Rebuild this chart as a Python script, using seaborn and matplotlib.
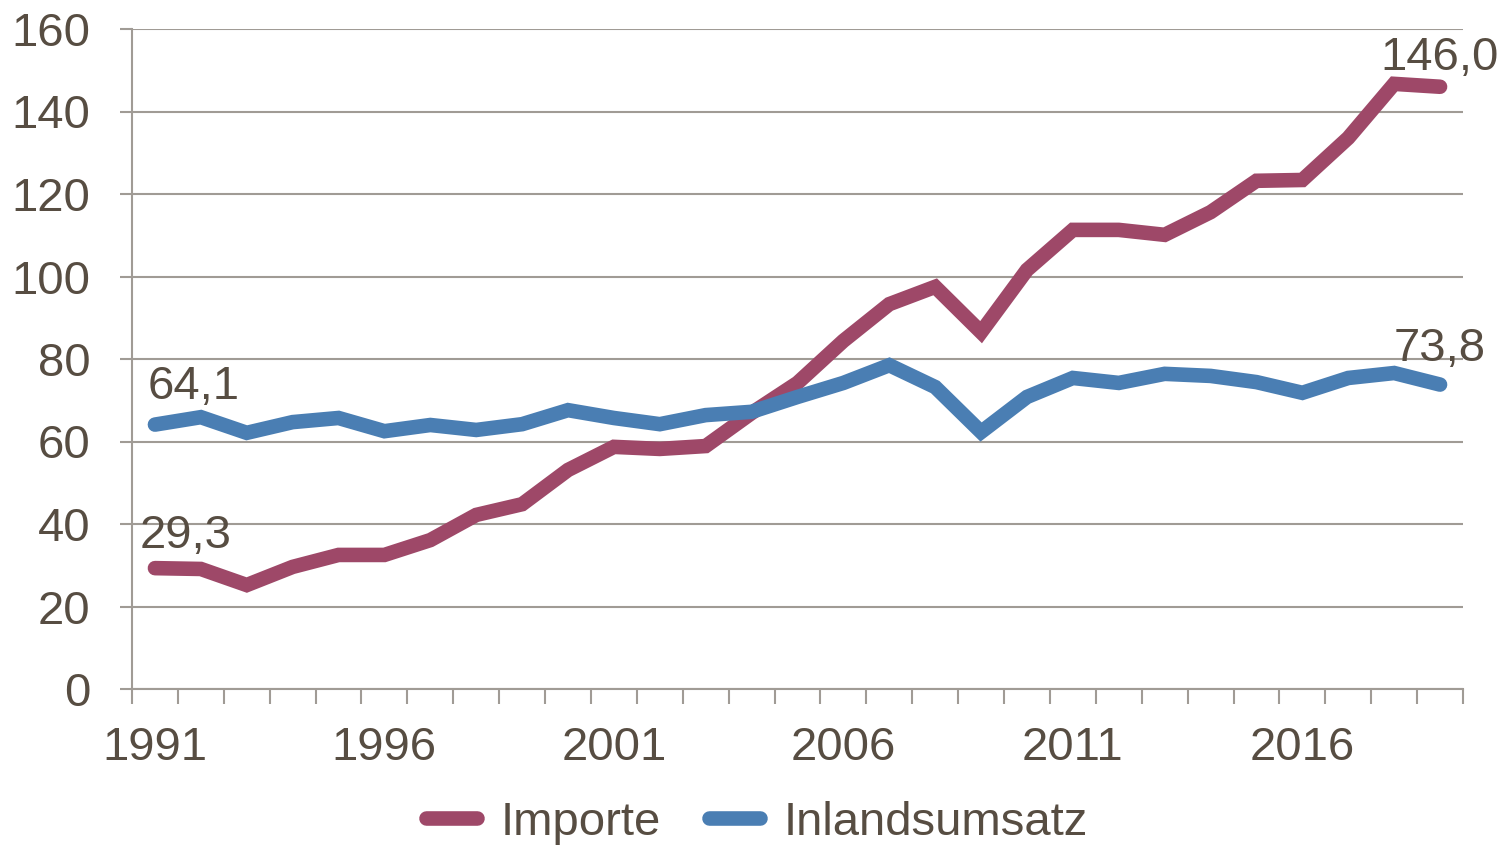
import matplotlib
matplotlib.use("Agg")
import matplotlib.pyplot as plt
import seaborn as sns
import pandas as pd
from matplotlib.ticker import MultipleLocator
from matplotlib.lines import Line2D

years = list(range(1991, 2020))
importe = [29.3, 29.1, 25.2, 29.6, 32.5, 32.5, 36.1, 42.2, 44.8, 53.1,
           58.7, 58.2, 58.9, 66.9, 74.2, 84.4, 93.3, 97.5, 86.5, 101.6,
           111.3, 111.3, 110.1, 115.6, 123.2, 123.4, 133.6, 146.7, 146.0]
inland = [64.1, 65.9, 62.1, 64.7, 65.7, 62.5, 64.0, 62.8, 64.2, 67.6,
          65.7, 64.2, 66.4, 67.2, 70.8, 74.2, 78.5, 73.2, 62.3, 70.8,
          75.4, 74.2, 76.4, 75.9, 74.4, 71.8, 75.4, 76.6, 73.8]
series_names = ["Importe", "Inlandsumsatz"]
colors = ["#9E4868", "#4A7EB3"]
year_labels = [1991, 1996, 2001, 2006, 2011, 2016]

df = pd.DataFrame({
    "Jahr": years * 2,
    "Wert": importe + inland,
    "Reihe": [series_names[0]] * len(years) + [series_names[1]] * len(years),
})

sns.set_theme(style="white")
plt.rcParams['font.family'] = ['Liberation Sans', 'DejaVu Sans']
txt = "#574D42"
axc = "#A09B95"
fs = 34

fig = plt.figure(figsize=(15.01, 8.48), dpi=100)
ax = fig.add_axes([132 / 1501, 1 - 689 / 848, (1463 - 132) / 1501, (689 - 29) / 848])

sns.lineplot(data=df, x="Jahr", y="Wert", hue="Reihe", palette=colors,
             linewidth=10.5, legend=False, ax=ax,
             solid_capstyle="round", solid_joinstyle="miter")

ax.set_xlim(1990.5, 2019.5)
ax.set_ylim(0, 160)
ax.yaxis.set_major_locator(MultipleLocator(20))
ax.grid(axis="y", color=axc, linewidth=1.5)
ax.set_axisbelow(True)
ax.set_xticks(year_labels)
ax.set_xticks([y - 0.5 for y in years] + [2019.5], minor=True)
ax.tick_params(axis="x", which="major", length=0, pad=27, labelsize=fs, labelcolor=txt)
ax.tick_params(axis="x", which="minor", length=11, width=1.5, color=axc, direction="out", bottom=True)
ax.tick_params(axis="y", length=9, width=1.5, color=axc, pad=21, labelsize=fs, labelcolor=txt, left=True)
ax.set_xlabel("")
ax.set_ylabel("")
for s in ["top", "right"]:
    ax.spines[s].set_visible(False)
for s in ["left", "bottom"]:
    ax.spines[s].set_color(axc)
    ax.spines[s].set_linewidth(1.5)

def fmt(v):
    return f"{v:.1f}".replace(".", ",")

ax.annotate(fmt(inland[0]), (years[0], inland[0]), xytext=(-5, 11), textcoords="offset points",
            fontsize=fs, color=txt, ha="left", va="bottom")
ax.annotate(fmt(importe[0]), (years[0], importe[0]), xytext=(-11, 7), textcoords="offset points",
            fontsize=fs, color=txt, ha="left", va="bottom")
ax.annotate(fmt(importe[-1]), (years[-1], importe[-1]), xytext=(0, 5), textcoords="offset points",
            fontsize=fs, color=txt, ha="center", va="bottom")
ax.annotate(fmt(inland[-1]), (years[-1], inland[-1]), xytext=(0, 10), textcoords="offset points",
            fontsize=fs, color=txt, ha="center", va="bottom")

handles = [Line2D([0], [0], color=c, linewidth=10.5, solid_capstyle="round") for c in colors]
fig.legend(handles, series_names, loc="center", bbox_to_anchor=(757 / 1501, 1 - 823 / 848),
           ncol=2, frameon=False, fontsize=fs, labelcolor=txt, handlelength=1.1,
           handletextpad=0.5, columnspacing=1.0)

fig.savefig("out.png", dpi=100)
